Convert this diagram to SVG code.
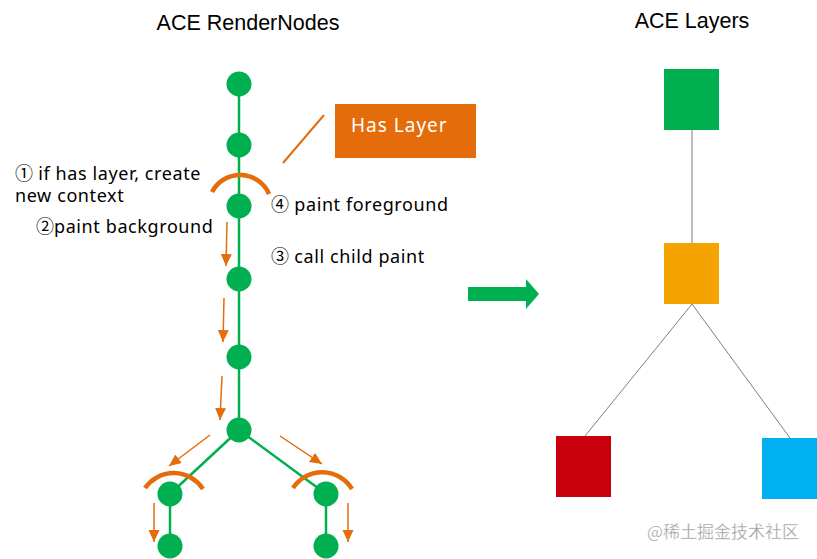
<svg xmlns="http://www.w3.org/2000/svg" width="817" height="559" viewBox="0 0 817 559">
<style>
.title{font-family:"Liberation Sans",Arial,sans-serif;font-size:21.5px;fill:#000}
.lbl{font-family:"Noto Sans","DejaVu Sans",sans-serif;font-size:18px;letter-spacing:0.6px;fill:#000}
.cd{font-family:"Noto Sans CJK SC",sans-serif;letter-spacing:0}
.node{fill:#00B050}
.tree{stroke:#00B050;stroke-width:2.5;fill:none}
.arc{stroke:#E46C0A;stroke-width:4.5;fill:none}
.oarr{stroke:#E46C0A;stroke-width:1.5;fill:none;marker-end:url(#ah)}
.gray{stroke:#7F7F7F;stroke-width:1;fill:none}
</style>
<defs>
<marker id="ah" markerUnits="userSpaceOnUse" markerWidth="13" markerHeight="12" refX="12" refY="5.5" orient="auto">
<path d="M0,0 L12,5.5 L0,11 z" fill="#E46C0A"/>
</marker>
</defs>
<rect width="817" height="559" fill="#fff"/>
<text class="title" x="248" y="30" text-anchor="middle">ACE RenderNodes</text>
<text class="title" x="692" y="28" text-anchor="middle">ACE Layers</text>
<g id="connectors">
<line class="tree" x1="239" y1="84" x2="239" y2="430"/>
<line class="tree" x1="239" y1="430" x2="170" y2="494"/>
<line class="tree" x1="239" y1="430" x2="326" y2="494"/>
<line class="tree" x1="170" y1="494" x2="170" y2="546"/>
<line class="tree" x1="326" y1="494" x2="326" y2="546"/>
<line class="gray" x1="692" y1="130" x2="692" y2="243"/>
<line class="gray" x1="692" y1="304" x2="585" y2="436"/>
<line class="gray" x1="692" y1="304" x2="790" y2="438"/>
<line x1="324" y1="115" x2="283" y2="163" stroke="#E46C0A" stroke-width="2"/>
</g>
<g id="node-1"><circle class="node" cx="239" cy="84" r="12.5"/></g>
<g id="node-2"><circle class="node" cx="239" cy="145" r="12.5"/></g>
<g id="node-3"><circle class="node" cx="239" cy="206" r="12.5"/></g>
<g id="node-4"><circle class="node" cx="239" cy="279" r="12.5"/></g>
<g id="node-5"><circle class="node" cx="239" cy="357" r="12.5"/></g>
<g id="node-6"><circle class="node" cx="239" cy="430" r="12.5"/></g>
<g id="node-7"><circle class="node" cx="170" cy="494" r="12.5"/></g>
<g id="node-8"><circle class="node" cx="170" cy="546" r="12.5"/></g>
<g id="node-9"><circle class="node" cx="326" cy="494" r="12.5"/></g>
<g id="node-10"><circle class="node" cx="326" cy="546" r="12.5"/></g>
<g id="arcs">
<path class="arc" d="M212,192 A31.6,31.6 0 0 1 269,194"/>
<path class="arc" d="M145,488 A35,35 0 0 1 203,489"/>
<path class="arc" d="M293,488 A35,35 0 0 1 352,489"/>
</g>
<g id="paint-arrows">
<line class="oarr" x1="227" y1="222" x2="226" y2="266"/>
<line class="oarr" x1="224" y1="298" x2="223" y2="342"/>
<line class="oarr" x1="222" y1="376" x2="220" y2="420"/>
<line class="oarr" x1="210" y1="435" x2="169" y2="466"/>
<line class="oarr" x1="280" y1="436" x2="322" y2="464"/>
<line class="oarr" x1="154" y1="503" x2="154" y2="542"/>
<line class="oarr" x1="348" y1="503" x2="348" y2="542"/>
</g>
<g id="labels">
<text class="lbl" x="15" y="180"><tspan class="cd">①</tspan> if has layer, create</text>
<text class="lbl" x="15" y="202">new context</text>
<text class="lbl" x="36" y="233"><tspan class="cd">②</tspan>paint background</text>
<text class="lbl" x="271" y="211"><tspan class="cd">④</tspan> paint foreground</text>
<text class="lbl" x="271" y="263"><tspan class="cd">③</tspan> call child paint</text>
</g>
<g id="has-layer">
<rect x="335" y="104" width="141" height="54" fill="#E46C0A"/>
<text x="351" y="132" font-family="Noto Sans,DejaVu Sans,sans-serif" font-size="19" letter-spacing="1" fill="#fff">Has Layer</text>
</g>
<g id="big-arrow">
<path d="M468,287 L526,287 L526,279 L539,294 L526,309 L526,301 L468,301 z" fill="#00B050"/>
</g>
<g id="layer-green"><rect x="664" y="69" width="55" height="61" fill="#00B050"/></g>
<g id="layer-orange"><rect x="664" y="243" width="55" height="61" fill="#F4A300"/></g>
<g id="layer-red"><rect x="556" y="436" width="55" height="61" fill="#C8000B"/></g>
<g id="layer-blue"><rect x="762" y="438" width="55" height="61" fill="#00B0F0"/></g>
<text x="647" y="538" font-family="Noto Sans CJK SC,sans-serif" font-size="17" fill="#999" stroke="#fff" stroke-width="0.3">@稀土掘金技术社区</text>
</svg>
